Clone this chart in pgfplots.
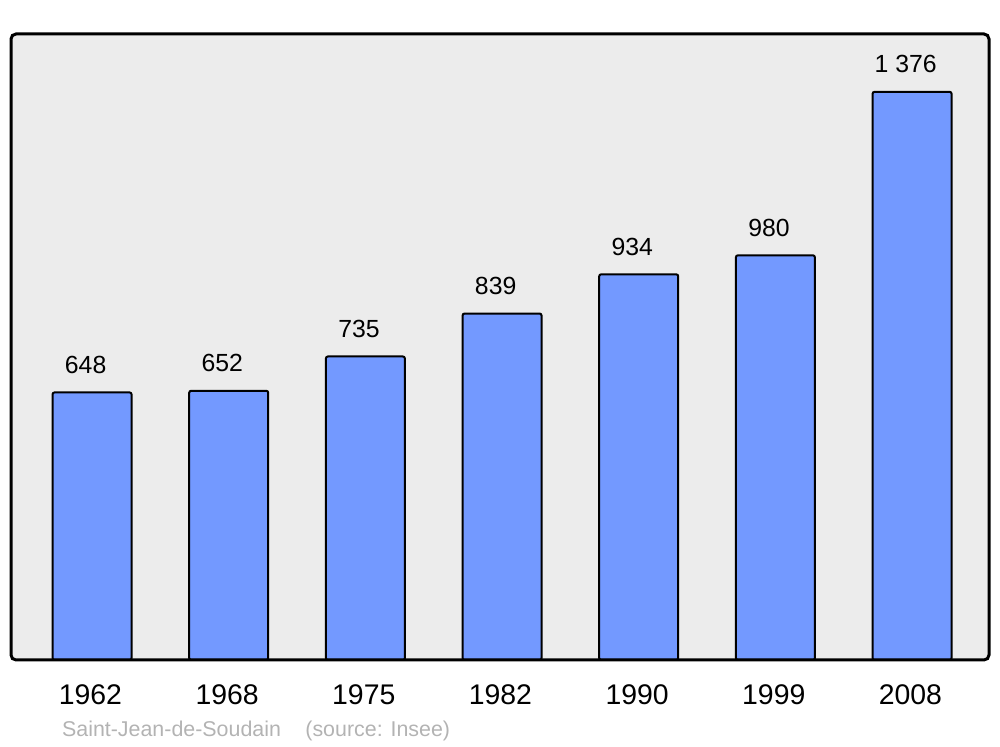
\documentclass[border=0pt]{standalone}
\usepackage{pgfplots}
\pgfplotsset{compat=1.18}
\usepackage{fontspec}
\setmainfont{Liberation Sans}
\definecolor{barblue}{HTML}{7399FF}
\definecolor{bggray}{HTML}{ECECEC}
\definecolor{srcgray}{HTML}{B3B3B3}
\begin{document}
\begin{tikzpicture}
\begin{axis}[
  scale only axis,
  width=489pt, height=313pt,
  xmin=-0.593, xmax=6.563,
  ymin=0, ymax=1516,
  clip=false,
  axis line style={draw=none},
  axis background/.style={fill=bggray},
  ytick=\empty,
  xtick={0,1,2,3,4,5,6},
  xticklabels={1962,1968,1975,1982,1990,1999,2008},
  major tick length=0pt,
  /pgf/number format/assume math mode=true,
  xticklabel style={font=\fontsize{14.2pt}{16pt}\selectfont, anchor=base, yshift=-22.5pt, xshift=-0.8pt, inner sep=0pt},
  ybar, bar width=39.5pt,
  point meta=explicit symbolic,
  nodes near coords={\pgfplotspointmeta},
  every node near coord/.append style={font=\fontsize{12.4pt}{14pt}\selectfont, anchor=base, yshift=9.5pt, xshift=-3.2pt, inner sep=0pt},
]
\addplot[fill=barblue, draw=black, line width=1pt, rounded corners=1pt]
  table[col sep=comma, x=x, y=y, meta=lab] {
x,y,lab
0,648,648
1,652,652
2,735,735
3,839,839
4,934,934
5,980,980
6,1376,1 376
};
\draw[line width=1.5pt, rounded corners=2.5pt] (rel axis cs:0,0) rectangle (rel axis cs:1,1);
\coordinate (bl) at (rel axis cs:0,0);
\coordinate (tr) at (rel axis cs:1,1);
\end{axis}
\node[anchor=base west, text=srcgray, inner sep=0pt, font=\fontsize{10.7pt}{12pt}\selectfont] at ([xshift=25.35pt, yshift=-38.5pt]bl) {Saint-Jean-de-Soudain};
\node[anchor=base west, text=srcgray, inner sep=0pt, font=\fontsize{10.7pt}{12pt}\selectfont] at ([xshift=147pt, yshift=-38.5pt]bl) {(source: Insee)};
\path ([xshift=-5.5pt, yshift=-43.5pt]bl) rectangle ([xshift=5.5pt, yshift=17pt]tr);
\end{tikzpicture}
\end{document}
